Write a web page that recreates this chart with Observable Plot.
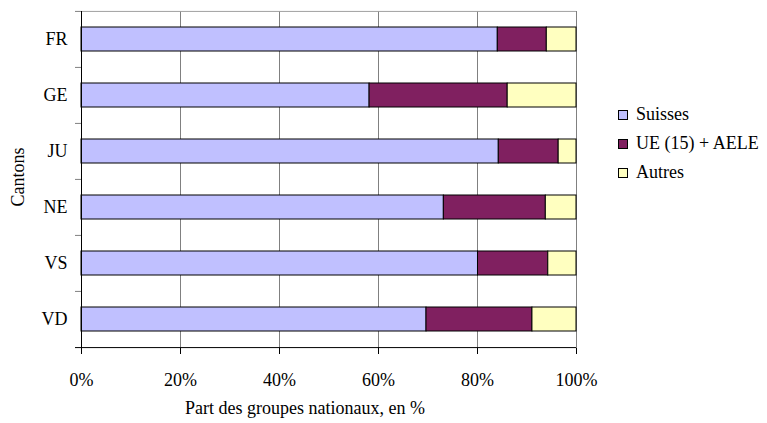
<!DOCTYPE html>
<html>
<head>
<meta charset="utf-8">
<script src="https://cdn.jsdelivr.net/npm/d3@7"></script>
<script src="https://cdn.jsdelivr.net/npm/@observablehq/plot@0.6"></script>
<style>
  html, body { margin: 0; padding: 0; background: #fff; }
  #chart { position: relative; width: 767px; height: 423px; font-family: 'Liberation Serif', serif; }
  #chart svg { position: absolute; left: 0; top: 0; }
  .legend { position: absolute; left: 618px; top: 100px; font-family: 'Liberation Serif', serif; font-size: 18px; color: #000; }
  .legend .row { display: flex; align-items: center; height: 29px; white-space: nowrap; }
  .legend .sw { width: 8px; height: 8px; border: 1px solid #000; margin-right: 8px; flex: none; }
</style>
</head>
<body>
<div id="chart"></div>
<script>
// Répartition de la population par groupe national, cantons romands
const cantons = ["FR", "GE", "JU", "NE", "VS", "VD"];
const groupes = ["Suisses", "UE (15) + AELE", "Autres"];
const suisses = [84.1, 58.2, 84.3, 73.2, 80.1, 69.7];
const ueAele  = [9.9, 27.9, 12.1, 20.6, 14.2, 21.4];
const autres  = [6.0, 13.9, 3.6, 6.2, 5.7, 8.9];
const couleurs = ["#C0C0FF", "#802060", "#FFFFC0"];
const xTicks = [0, 20, 40, 60, 80, 100];
const titreX = "Part des groupes nationaux, en %";
const titreY = "Cantons";

const series = [suisses, ueAele, autres];
const rows = [];
cantons.forEach((c, i) => {
  groupes.forEach((g, j) => rows.push({canton: c, groupe: g, part: series[j][i]}));
});

const W = 767, H = 423;
const mT = 11, mB = 75, mL = 81, mR = 191;
const step = (H - mT - mB) / cantons.length;
const serif = "Liberation Serif, serif";

const plot = Plot.plot({
  width: W,
  height: H,
  marginTop: mT,
  marginBottom: mB,
  marginLeft: mL,
  marginRight: mR,
  style: {fontFamily: serif, fontSize: "18px", color: "#000", background: "#fff"},
  x: {domain: [0, 100]},
  y: {domain: cantons, paddingInner: 0.57, paddingOuter: 0.285},
  color: {domain: groupes, range: couleurs},
  marks: [
    // vertical gridlines
    Plot.ruleX(xTicks.slice(1), {stroke: "#808080", strokeWidth: 1}),
    // top border of the plot area
    Plot.ruleY([cantons[0]], {dy: -step / 2, x1: 0, x2: 100, stroke: "#a0a0a0"}),
    // stacked bars
    Plot.barX(rows, {x: "part", y: "canton", fill: "groupe", stroke: "#000", strokeWidth: 1}),
    // category separators on the y axis
    Plot.ruleY(cantons, {dy: -step / 2, x1: 0, x2: 0, insetLeft: -6, stroke: "#808080"}),
    // x axis baseline
    Plot.ruleY([cantons[cantons.length - 1]], {dy: step / 2, x1: 0, x2: 100, insetLeft: -6, stroke: "#000"}),
    // y axis line
    Plot.ruleX([0], {stroke: "#000"}),
    Plot.axisY({tickSize: 0, tickPadding: 14, label: null, fontFamily: serif}),
    Plot.axisX({ticks: xTicks, tickFormat: d => d + "%", tickSize: 6, tickPadding: 19, label: null, fontFamily: serif}),
    Plot.text([titreX], {frameAnchor: "bottom", dy: 65, dx: -24, fontSize: 18, fontFamily: serif}),
    Plot.text([titreY], {frameAnchor: "left", textAnchor: "middle", rotate: -90, dx: -63, dy: -3, fontSize: 18, fontFamily: serif})
  ]
});
plot.setAttribute("font-family", serif);
plot.style.fontFamily = serif;

const root = document.getElementById("chart");
root.appendChild(plot);

// legend
const legend = document.createElement("div");
legend.className = "legend";
groupes.forEach((g, j) => {
  const row = document.createElement("div");
  row.className = "row";
  const sw = document.createElement("span");
  sw.className = "sw";
  sw.style.background = couleurs[j];
  const label = document.createElement("span");
  label.textContent = g;
  row.appendChild(sw);
  row.appendChild(label);
  legend.appendChild(row);
});
root.appendChild(legend);
</script>
</body>
</html>
